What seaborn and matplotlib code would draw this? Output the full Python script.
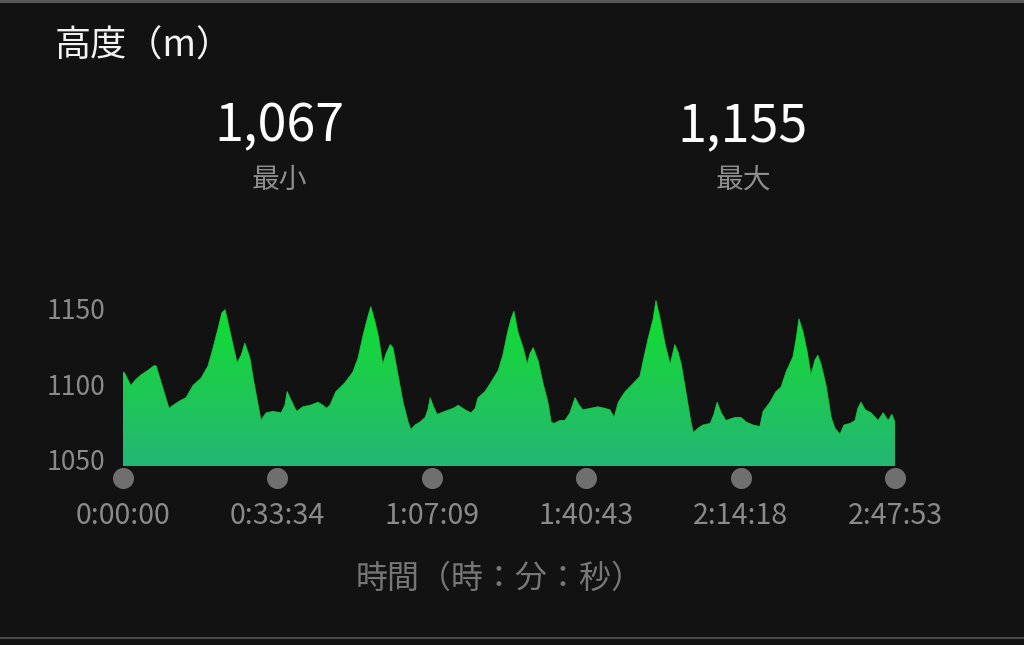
import numpy as np
import pandas as pd
import matplotlib
matplotlib.use("Agg")
import matplotlib.pyplot as plt
import matplotlib.transforms as mtransforms
from matplotlib.colors import LinearSegmentedColormap
import seaborn as sns

# ---------------- data ----------------
elapsed_min = [
    0.0, 0.4, 1.7, 2.8, 3.9, 5.4, 6.7, 7.2, 8.3, 10.0, 10.9, 12.4, 13.7, 15.2, 17.0,
    18.5, 19.6, 20.7, 21.5, 22.2, 22.8, 23.9, 24.8, 25.7, 26.5, 27.6,
    28.3, 29.4, 30.0, 31.1, 32.6, 34.4, 35.2, 35.7, 36.3, 37.4, 37.8, 39.1, 40.7,
    42.4, 43.5, 44.2, 45.0, 46.3, 48.3, 50.0, 51.1, 52.2, 53.3, 53.9, 54.8,
    55.5, 56.5, 57.2, 58.1, 58.7, 59.8, 60.9, 62.0, 62.6, 63.5, 64.6, 65.7, 66.3,
    66.8, 67.4, 68.3, 70.0, 71.8, 72.9, 74.4, 75.7, 76.6, 77.2, 78.7, 80.0, 81.6,
    82.6, 83.7,
    84.4, 85.0, 85.9, 87.0, 87.9, 88.5, 89.2, 90.3, 91.3, 92.4, 93.1, 93.7, 95.0,
    96.1, 97.2, 98.3, 99.2, 100.0, 101.6, 103.3, 104.8, 105.9, 106.8, 107.7, 109.2,
    110.5, 112.4,
    113.1, 114.2, 115.3, 115.9, 116.8, 117.9, 119.0, 120.0, 120.7, 121.4, 122.4,
    123.5, 124.0, 125.1, 126.1, 127.7, 128.5, 129.2, 130.1, 131.1, 133.1, 134.4,
    135.5, 137.0, 138.5, 139.2, 140.7,
    142.0, 143.1, 144.2, 145.7, 146.4, 147.0, 147.9, 148.8, 149.6, 150.5, 151.1,
    151.8, 152.9, 154.0, 154.8, 155.9, 156.8, 158.1, 159.2, 159.8, 160.5, 161.4,
    162.7, 164.2, 165.3, 166.4, 167.2, 167.88,
]
altitude_m = [
    1108, 1107, 1099, 1103, 1106, 1109, 1112, 1112, 1101, 1084, 1086, 1089, 1091, 1099, 1104,
    1112, 1124, 1137, 1147, 1149, 1141, 1126, 1114, 1119, 1127, 1117,
    1104, 1086, 1076, 1081, 1082, 1081, 1086, 1095, 1091, 1084, 1082, 1085, 1086,
    1088, 1086, 1084, 1086, 1095, 1101, 1108, 1117, 1132, 1145, 1151, 1141,
    1132, 1113, 1120, 1126, 1124, 1106, 1088, 1075, 1070, 1073, 1075, 1078, 1083,
    1091, 1086, 1080, 1082, 1084, 1086, 1083, 1081, 1084, 1091, 1095, 1101, 1109,
    1119, 1135,
    1143, 1148, 1134, 1124, 1113, 1120, 1124, 1115, 1101, 1088, 1075, 1074, 1076,
    1076, 1081, 1091, 1086, 1083, 1084, 1085, 1084, 1083, 1078, 1088, 1095,
    1099, 1105,
    1115, 1130, 1143, 1155, 1143, 1126, 1113, 1126, 1121, 1113, 1095,
    1075, 1068, 1071, 1073, 1074, 1080, 1088, 1081, 1076, 1078, 1078,
    1075, 1073, 1072, 1082, 1088,
    1095, 1098, 1108, 1118, 1130, 1143, 1134, 1121, 1106, 1116, 1119,
    1113, 1099, 1078, 1071, 1067, 1073, 1074, 1076, 1084, 1088, 1083,
    1081, 1076, 1081, 1076, 1080, 1075,
]
total_min = 167.883  # 2:47:53
x_tick_labels = ["0:00:00", "0:33:34", "1:07:09", "1:40:43", "2:14:18", "2:47:53"]
y_ticks = [1050, 1100, 1150]
min_alt = 1067
max_alt = 1155
title_text = "高度（m）"
min_label = "最小"
max_label = "最大"
x_label = "時間（時：分：秒）"

# ---------------- style ----------------
BG = "#121212"
sns.set_theme(style="dark", rc={"axes.facecolor": BG, "figure.facecolor": BG,
                                "savefig.facecolor": BG})
plt.rcParams["font.family"] = ["Noto Sans CJK JP", "DejaVu Sans"]

W, H = 1024, 645
fig = plt.figure(figsize=(W / 100, H / 100), dpi=100)
ax = fig.add_axes([123 / W, (H - 466) / H, 772 / W, 173 / H])

df = pd.DataFrame({"t": elapsed_min, "alt": altitude_m})
ymin, ymax = 1046, 1160

poly = ax.fill_between(df["t"], df["alt"], ymin, color="none", linewidth=0)
cmap = LinearSegmentedColormap.from_list("g", ["#24b676", "#1dcb4e", "#0ce22a"])
grad = np.linspace(0, 1, 256).reshape(-1, 1)
im = ax.imshow(grad, cmap=cmap, aspect="auto", origin="lower",
               extent=[0, total_min, ymin, ymax], zorder=2, interpolation="bilinear")
im.set_clip_path(poly.get_paths()[0], transform=ax.transData)

sns.lineplot(data=df, x="t", y="alt", ax=ax, color="#16d23e", linewidth=0.7,
             alpha=0.8, zorder=3)

ax.set_xlim(0, total_min)
ax.set_ylim(ymin, ymax)
ax.set_xlabel("")
ax.set_ylabel("")
ax.grid(False)
for s in ax.spines.values():
    s.set_visible(False)

tick_pos = np.linspace(0, total_min, len(x_tick_labels))
ax.set_xticks(tick_pos, x_tick_labels)
ax.set_yticks(y_ticks)
ax.tick_params(axis="x", length=0, pad=25, labelsize=20.5, labelcolor="#8a8a8a")
ax.tick_params(axis="y", length=0, pad=13, labelsize=19, labelcolor="#8a8a8a")

trans = mtransforms.blended_transform_factory(ax.transData, ax.transAxes)
ax.scatter(tick_pos, [-0.072] * len(tick_pos), s=230, color="#6f6f6f",
           linewidths=0, transform=trans, clip_on=False, zorder=5)

# ---------------- texts ----------------
fig.text(55 / W, 1 - 47 / H, title_text, color="#f2f2f2", fontsize=26,
         ha="left", va="center")
fig.text(279 / W, 1 - 126 / H, f"{min_alt:,}", color="#ffffff", fontsize=37.5,
         ha="center", va="center")
fig.text(279 / W, 1 - 180 / H, min_label, color="#8e8e8e", fontsize=20,
         ha="center", va="center")
fig.text(743 / W, 1 - 126 / H, f"{max_alt:,}", color="#ffffff", fontsize=37.5,
         ha="center", va="center")
fig.text(743 / W, 1 - 180 / H, max_label, color="#8e8e8e", fontsize=20,
         ha="center", va="center")
fig.text(500 / W, 1 - 579 / H, x_label, color="#777777", fontsize=23,
         ha="center", va="center")

# border lines
fig.add_artist(plt.Line2D([0, 1], [1 - 1 / H, 1 - 1 / H], transform=fig.transFigure,
                          color="#5a5a5a", linewidth=2.2))
fig.add_artist(plt.Line2D([0, 1], [1 - 638 / H, 1 - 638 / H], transform=fig.transFigure,
                          color="#4a4a4a", linewidth=1.5))

fig.savefig("out.png", dpi=100, facecolor=BG)
